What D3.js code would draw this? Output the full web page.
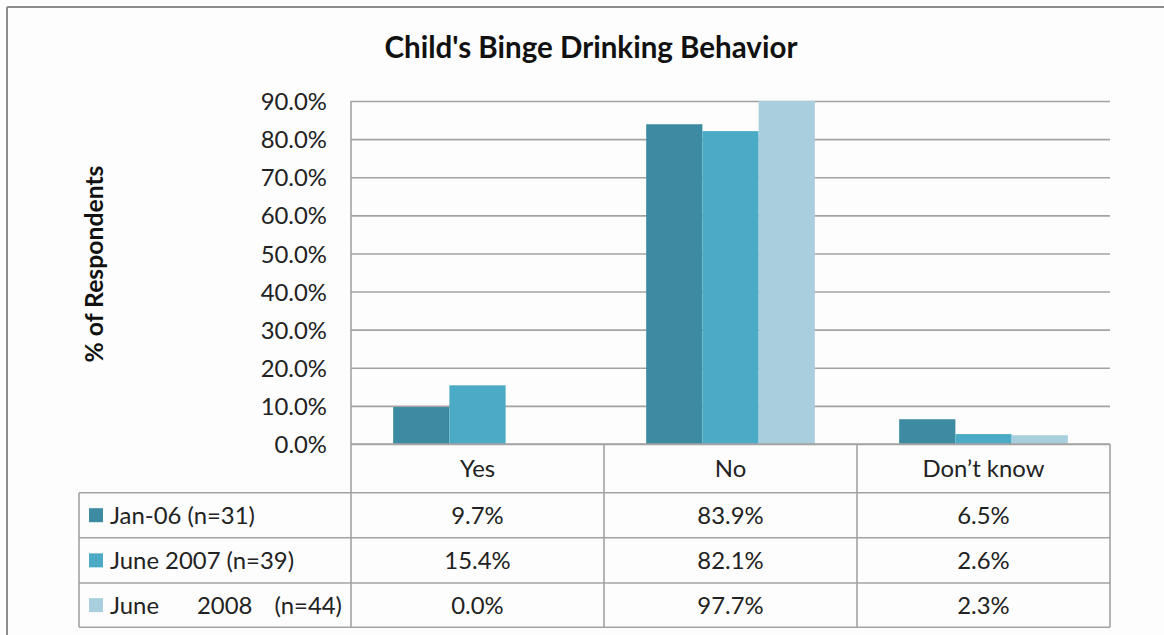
<!DOCTYPE html>
<html>
<head>
<meta charset="utf-8">
<script src="https://cdn.jsdelivr.net/npm/d3@7"></script>
<style>
  html, body { margin: 0; padding: 0; background: #fdfdfd; }
  svg { display: block; font-family: Lato, "Open Sans", sans-serif; }
</style>
</head>
<body>
<svg id="chart" width="1164" height="635"></svg>
<script>
// ---------------- data ----------------
const title = "Child's Binge Drinking Behavior";
const yLabel = "% of Respondents";
const categories = ["Yes", "No", "Don\u2019t know"];
const seriesNames = ["Jan-06 (n=31)", "June 2007 (n=39)", "June 2008 (n=44)"];
const valuesJan06 = [9.7, 83.9, 6.5];
const valuesJun07 = [15.4, 82.1, 2.6];
const valuesJun08 = [0.0, 97.7, 2.3];
const seriesColors = ["#3c8ba3", "#4babc6", "#a9cedd"];
const yTicks = [0, 10, 20, 30, 40, 50, 60, 70, 80, 90];

const seriesValues = [valuesJan06, valuesJun07, valuesJun08];

// ---------------- layout ----------------
const W = 1164, H = 635;
const plot = { left: 351, right: 1110, top: 101, bottom: 444 };
const tableLeft = 79;
const rowLines = [444, 492.7, 537.7, 583, 627.3];
const gridColor = "#a3a3a3";

const svg = d3.select("#chart");

// frame
svg.append("line").attr("x1", 7).attr("x2", W).attr("y1", 7).attr("y2", 7)
  .attr("stroke", "#8c8c8c").attr("stroke-width", 2);
svg.append("line").attr("x1", 7).attr("x2", 7).attr("y1", 7).attr("y2", H)
  .attr("stroke", "#8c8c8c").attr("stroke-width", 2);

// scales
const y = d3.scaleLinear().domain([0, 90]).range([plot.bottom, plot.top]);
const x = d3.scaleBand().domain(categories).range([plot.left, plot.right]).paddingInner(0).paddingOuter(0);
const xs = d3.scaleBand().domain(seriesNames).range([0, x.bandwidth()]).paddingInner(0).paddingOuter(0.75);

// helper: fit text to a target width
function fitWidth(sel, target) {
  const node = sel.node();
  const fs = parseFloat(sel.attr("font-size"));
  const w = node.getComputedTextLength();
  sel.attr("font-size", (fs * target / w).toFixed(2));
}

// base font size for small text (measure reference string)
const probe = svg.append("text").attr("font-size", 20).text("Jan-06 (n=31)");
fitWidth(probe, 145);
const baseFS = +probe.attr("font-size");
probe.remove();

// gridlines
const gridAxis = d3.axisLeft(y).tickValues(yTicks).tickSize(-(plot.right - plot.left)).tickFormat("");
const gg = svg.append("g").attr("transform", `translate(${plot.left},0)`).call(gridAxis);
gg.select(".domain").remove();
gg.selectAll(".tick line").attr("stroke", gridColor).attr("stroke-width", 1.6);

// y tick labels
const yAxis = d3.axisLeft(y).tickValues(yTicks).tickSize(0).tickPadding(24)
  .tickFormat(d => d3.format(".1f")(d) + "%");
const ya = svg.append("g").attr("transform", `translate(${plot.left},0)`).call(yAxis);
ya.select(".domain").remove();
ya.selectAll("text").attr("font-size", baseFS).attr("font-family", "Lato, sans-serif")
  .attr("fill", "#222").attr("dy", "0.36em");

// bars (clipped at plot top)
svg.append("clipPath").attr("id", "plotclip").append("rect")
  .attr("x", plot.left).attr("y", plot.top)
  .attr("width", plot.right - plot.left).attr("height", plot.bottom - plot.top);

const barsG = svg.append("g").attr("clip-path", "url(#plotclip)");
seriesNames.forEach((s, si) => {
  barsG.selectAll(null).data(categories).enter().append("rect")
    .attr("x", (c) => x(c) + xs(s))
    .attr("width", xs.bandwidth())
    .attr("y", (c, ci) => y(seriesValues[si][ci]))
    .attr("height", (c, ci) => y(0) - y(seriesValues[si][ci]))
    .attr("fill", seriesColors[si]);
});

// table lines
const tl = svg.append("g").attr("stroke", gridColor).attr("stroke-width", 1.6);
// horizontal lines
tl.append("line").attr("x1", plot.left).attr("x2", plot.right).attr("y1", rowLines[0]).attr("y2", rowLines[0]);
for (let i = 1; i < rowLines.length; i++) {
  tl.append("line").attr("x1", tableLeft).attr("x2", plot.right).attr("y1", rowLines[i]).attr("y2", rowLines[i]);
}
// vertical lines
tl.append("line").attr("x1", plot.left).attr("x2", plot.left).attr("y1", plot.top).attr("y2", rowLines[4]);
tl.append("line").attr("x1", tableLeft).attr("x2", tableLeft).attr("y1", rowLines[1]).attr("y2", rowLines[4]);
categories.forEach((c, i) => {
  const xr = x(c) + x.bandwidth();
  tl.append("line").attr("x1", xr).attr("x2", xr).attr("y1", rowLines[0]).attr("y2", rowLines[4]);
});

// header row: category labels
svg.append("g").selectAll("text").data(categories).enter().append("text")
  .attr("x", c => x(c) + x.bandwidth() / 2)
  .attr("y", (rowLines[0] + rowLines[1]) / 2)
  .attr("dy", "0.36em").attr("text-anchor", "middle")
  .attr("font-size", baseFS).attr("fill", "#222").text(c => c);

// data rows
seriesNames.forEach((s, si) => {
  const cy = (rowLines[si + 1] + rowLines[si + 2]) / 2;
  // legend swatch
  const sw = 14;
  svg.append("rect").attr("x", 89).attr("y", cy - sw / 2).attr("width", sw).attr("height", sw)
    .attr("fill", seriesColors[si]);
  // legend label
  if (si === 2) {
    // justified text in the original cell
    const parts = s.split(" ");
    const g = svg.append("text").attr("y", cy).attr("dy", "0.36em")
      .attr("font-size", baseFS).attr("fill", "#222");
    g.append("tspan").attr("x", 110).text(parts[0]);
    g.append("tspan").attr("x", 197).text(parts[1]);
    g.append("tspan").attr("x", 342).attr("text-anchor", "end").text(parts[2]);
  } else {
    svg.append("text").attr("x", 110).attr("y", cy).attr("dy", "0.36em")
      .attr("font-size", baseFS).attr("fill", "#222").text(s);
  }
  // values
  categories.forEach((c, ci) => {
    svg.append("text")
      .attr("x", x(c) + x.bandwidth() / 2).attr("y", cy).attr("dy", "0.36em")
      .attr("text-anchor", "middle").attr("font-size", baseFS).attr("fill", "#222")
      .text(d3.format(".1f")(seriesValues[si][ci]) + "%");
  });
});

// title
const t = svg.append("text").attr("x", 591).attr("y", 58).attr("text-anchor", "middle")
  .attr("font-weight", "bold").attr("font-size", 24).attr("fill", "#111").text(title);
fitWidth(t, 413);

// y label
const yl = svg.append("text").attr("transform", `translate(103,${264}) rotate(-90)`)
  .attr("text-anchor", "middle").attr("font-weight", "bold").attr("font-size", 20)
  .attr("fill", "#111").text(yLabel);
fitWidth(yl, 197);
</script>
</body>
</html>
